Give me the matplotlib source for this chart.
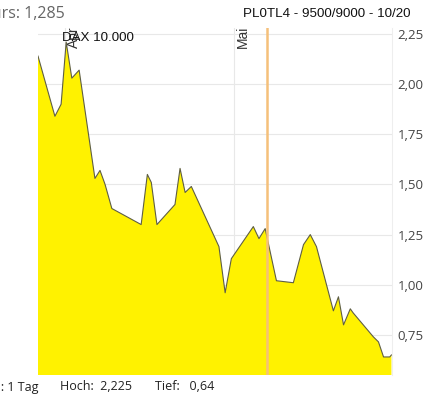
import matplotlib.pyplot as plt

# day offsets from 1 April, and price
days = [-4.8, -1.8, -0.7, 0.2, 1.2, 2.5, 5.3, 6.2, 7.1, 8.3, 13.5, 14.6, 15.3, 16.3,
        19.5, 20.4, 21.3, 22.4, 27.3, 28.4, 29.5, 33.4, 34.4, 35.5, 37.5, 40.5,
        42.3, 43.5, 44.6, 47.6, 48.5, 49.4, 50.6, 51.1, 54.7, 55.6, 56.5, 57.6, 57.9]
price = [2.14, 1.84, 1.90, 2.21, 2.03, 2.07, 1.53, 1.57, 1.50, 1.38, 1.30, 1.55, 1.51, 1.30,
         1.40, 1.58, 1.46, 1.49, 1.19, 0.96, 1.13, 1.29, 1.23, 1.28, 1.02, 1.01,
         1.20, 1.25, 1.19, 0.87, 0.94, 0.80, 0.88, 0.86, 0.74, 0.715, 0.64, 0.64, 0.65]
yticks = [0.75, 1.00, 1.25, 1.50, 1.75, 2.00, 2.25]
month_days = [0, 30]
month_labels = ["Apr", "Mai"]
marker_day = 35.9

fig = plt.figure(figsize=(4.44, 4.04), dpi=100)
ax = fig.add_axes([38 / 444, 29 / 404, 354 / 444, 347 / 404])

ax.fill_between(days, price, 0, color="#fff200", lw=0)
ax.plot(days, price, color="#5e5e45", lw=0.8)
ax.axvline(marker_day, color="#f5c07a", lw=1.8, zorder=4)

ax.set_xlim(days[0], days[-1] + 0.1)
ax.set_ylim(0.55, 2.28)
ax.set_yticks(yticks)
ax.set_yticklabels([f"{v:.2f}".replace(".", ",") for v in yticks],
                   fontsize=9.5, color="#444444", family="Open Sans")
ax.yaxis.tick_right()
ax.tick_params(axis="y", length=0, pad=4)
ax.set_xticks(month_days)
ax.set_xticklabels([])
ax.tick_params(axis="x", length=0)
ax.grid(True, color="#e8e8e8", lw=0.8)
ax.set_axisbelow(True)
for s in ["top", "left", "bottom"]:
    ax.spines[s].set_visible(False)
ax.spines["right"].set_color("#eeeeee")

for d, lab in zip(month_days, month_labels):
    ax.text(d + 0.3, 2.29, lab, rotation=90, ha="left", va="top", fontsize=10,
            color="#333333", family="Liberation Sans", clip_on=False)

fig.text(65 / 444, 1 - 14 / 404, "Kurs: 1,285", ha="right", va="center",
         fontsize=11.5, color="#666666", family="Open Sans")
fig.text(243 / 444, 1 - 14 / 404, "PL0TL4 - 9500/9000 - 10/20", ha="left", va="center",
         fontsize=9.6, color="#111111", family="Liberation Sans")
fig.text(62 / 444, 1 - 38 / 404, "DAX 10.000", ha="left", va="center",
         fontsize=9.6, color="#111111", family="Liberation Sans")
fig.text(38 / 444, 1 - 387 / 404, "Intervall: 1 Tag", ha="right", va="center",
         fontsize=9, color="#222222", family="Open Sans")
fig.text(60 / 444, 1 - 387 / 404, "Hoch:  2,225", ha="left", va="center",
         fontsize=9, color="#222222", family="Open Sans")
fig.text(155 / 444, 1 - 387 / 404, "Tief:   0,64", ha="left", va="center",
         fontsize=9, color="#222222", family="Open Sans")

fig.savefig("out.png", dpi=100)
